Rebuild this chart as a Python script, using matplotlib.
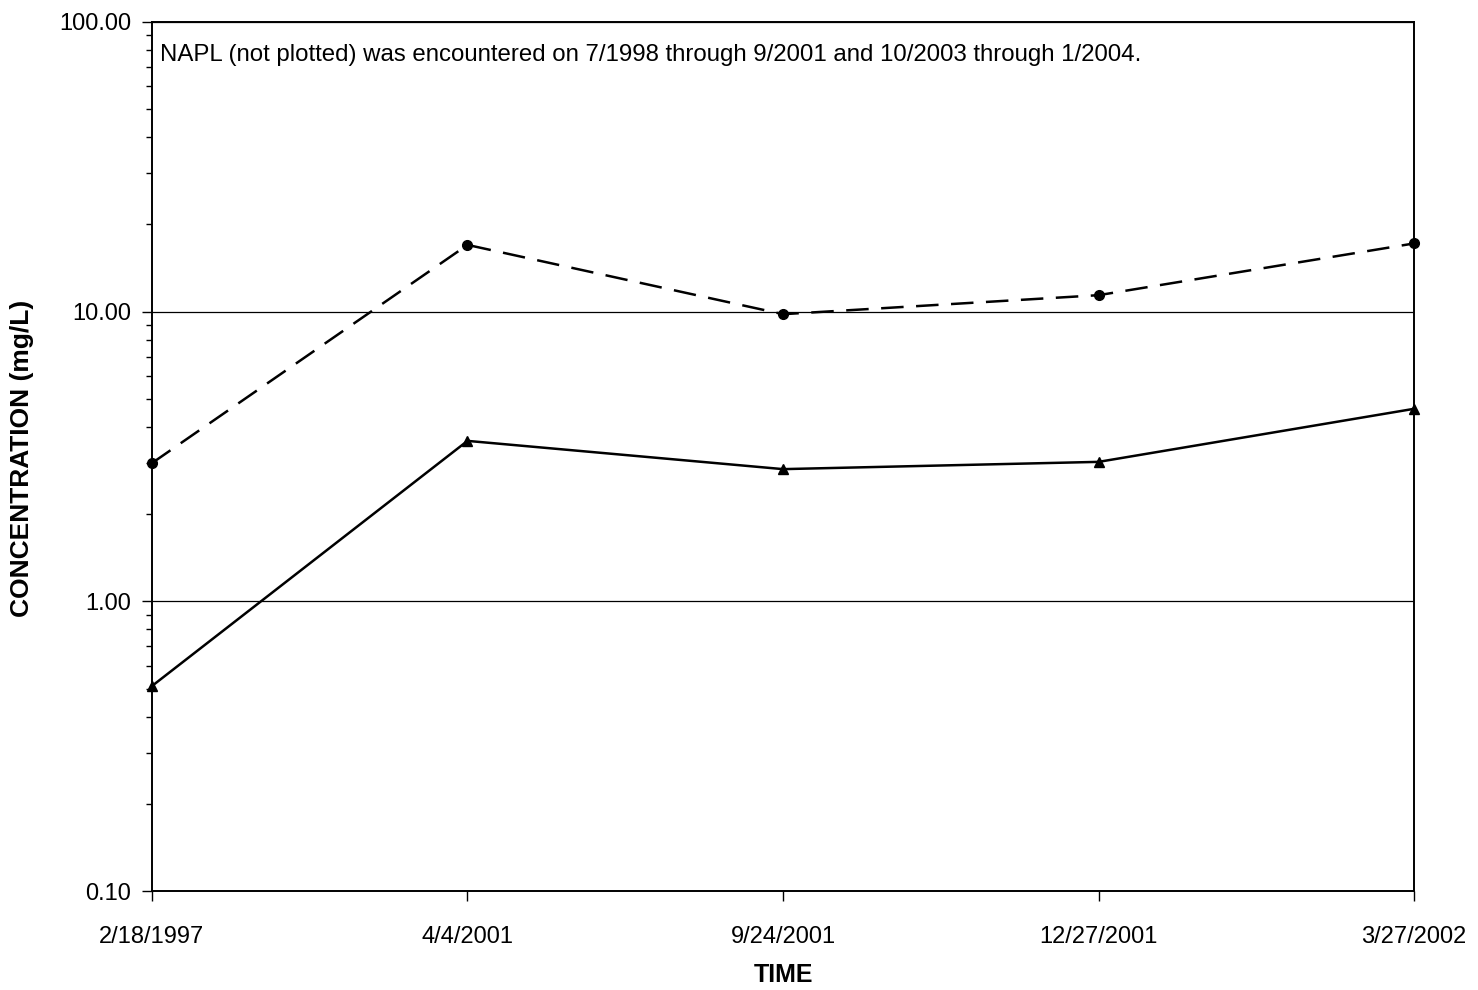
import matplotlib
matplotlib.use("Agg")
import matplotlib.pyplot as plt
from matplotlib.ticker import LogLocator, FixedLocator, NullFormatter, FuncFormatter

plt.rcParams['font.family'] = ['Liberation Sans', 'DejaVu Sans']

# Sampling dates (evenly spaced categories)
dates = ["2/18/1997", "4/4/2001", "9/24/2001", "12/27/2001", "3/27/2002"]

# Concentrations in mg/L
series_dashed = [3.0, 17.0, 9.8, 11.4, 17.2]   # circles, dashed line
series_solid = [0.51, 3.58, 2.86, 3.03, 4.62]  # triangles, solid line

y_ticks = [0.1, 1.0, 10.0, 100.0]

fig = plt.figure(figsize=(14.78, 9.90), dpi=100)
ax = fig.add_axes([0.1028, 0.10, 0.854, 0.8778])

x = list(range(len(dates)))
ax.plot(x, series_dashed, color='black', lw=1.8, ls=(0, (9, 5)),
        marker='o', ms=7, clip_on=False, zorder=3)
ax.plot(x, series_solid, color='black', lw=1.8, ls='-',
        marker='^', ms=7, clip_on=False, zorder=3)

ax.set_yscale('log')
ax.set_ylim(0.1, 100)
ax.set_xlim(0, len(dates) - 1)
ax.yaxis.set_major_locator(FixedLocator(y_ticks))
ax.yaxis.set_major_formatter(FuncFormatter(lambda v, p: f"{v:.2f}"))
ax.yaxis.set_minor_locator(LogLocator(base=10, subs=range(2, 10)))
ax.yaxis.set_minor_formatter(NullFormatter())

ax.set_xticks(x)
ax.set_xticklabels(dates)

ax.grid(axis='y', which='major', color='black', lw=0.9)
ax.set_axisbelow(True)

for s in ax.spines.values():
    s.set_linewidth(1.4)
    s.set_color('black')

ax.tick_params(axis='both', which='major', direction='out', length=7,
               width=1.0, labelsize=17, colors='black')
ax.tick_params(axis='y', which='major', pad=8)
ax.tick_params(axis='y', which='minor', direction='out', length=4, width=1.0)
ax.tick_params(axis='x', pad=18)

ax.set_ylabel("CONCENTRATION (mg/L)", fontsize=19, fontweight='bold', va='center')
ax.yaxis.set_label_coords(-0.103, 0.498)
ax.set_xlabel("TIME", fontsize=18, fontweight='bold', va='center')
ax.xaxis.set_label_coords(0.5, -0.097)

ax.text(0.006, 0.962,
        "NAPL (not plotted) was encountered on 7/1998 through 9/2001 and 10/2003 through 1/2004.",
        transform=ax.transAxes, fontsize=17.3, va='center', ha='left')

fig.savefig("out.png", dpi=100)
